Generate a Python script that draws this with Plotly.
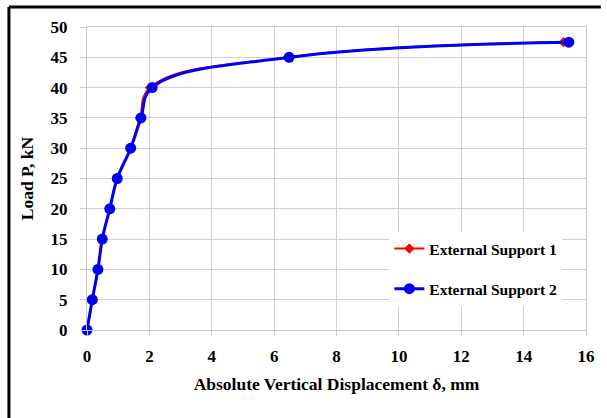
import plotly.graph_objects as go

load = [0, 5, 10, 15, 20, 25, 30, 35, 40, 45, 47.5]
disp_s1 = [0, 0.17, 0.35, 0.49, 0.73, 0.97, 1.40, 1.70, 2.02, 6.45, 15.28]
disp_s2 = [0, 0.17, 0.35, 0.49, 0.73, 0.97, 1.40, 1.73, 2.09, 6.48, 15.45]
names = ["External Support 1", "External Support 2"]

W, H = 607, 418
L, R, T, B = 87, 15, 27, 88

fig = go.Figure()
fig.add_trace(go.Scatter(
    x=disp_s1, y=load, name=names[0], mode="lines+markers",
    line=dict(color="#ff0000", width=2, shape="spline", smoothing=1.2),
    marker=dict(symbol="diamond", size=8, color="#ff0000"),
    legendgroup="a", cliponaxis=False,
))
fig.add_trace(go.Scatter(
    x=disp_s2, y=load, name=names[1], mode="lines+markers",
    line=dict(color="#0000ee", width=3, shape="spline", smoothing=1.15),
    marker=dict(symbol="circle", size=11, color="#0000ee"),
    legendgroup="b", cliponaxis=False,
))

pw = W - L - R
ph = H - T - B
def px(x):
    return (x - L) / pw
def py(y):
    return (H - B - y) / ph

font_family = "Liberation Serif"
fig.update_layout(
    width=W, height=H,
    margin=dict(l=L, r=R, t=T, b=B),
    paper_bgcolor="white", plot_bgcolor="white",
    font=dict(family=font_family, color="black"),
    xaxis=dict(
        range=[0, 16], dtick=2, tick0=0,
        showgrid=True, gridcolor="#d0d0d0", gridwidth=1,
        showline=True, linecolor="#c8c8c8", linewidth=1, mirror=True,
        ticks="outside", ticklen=5, tickcolor="#c8c8c8",
        ticklabelstandoff=6,
        tickfont=dict(size=17, family=font_family, weight="bold"),
        title=dict(text="<b>Absolute Vertical Displacement δ, mm</b>",
                   font=dict(size=17.5, family=font_family), standoff=12),
        zeroline=False,
    ),
    yaxis=dict(
        range=[0, 50], dtick=5, tick0=0,
        showgrid=True, gridcolor="#d0d0d0", gridwidth=1,
        showline=True, linecolor="#c8c8c8", linewidth=1, mirror=True,
        ticks="outside", ticklen=6, tickcolor="#c8c8c8",
        ticklabelstandoff=9,
        tickfont=dict(size=17, family=font_family, weight="bold"),
        title=dict(text="<b>Load P, kN</b>",
                   font=dict(size=17.5, family=font_family), standoff=12),
        zeroline=False,
    ),
    legend=dict(
        x=px(393), y=py(232), xanchor="left", yanchor="top",
        bgcolor="white", borderwidth=0,
        font=dict(size=15.5, family=font_family, weight="bold"),
        tracegroupgap=17, traceorder="grouped", itemwidth=30,
    ),
    showlegend=True,
    shapes=[
        dict(type="line", xref="paper", yref="paper",
             x0=px(8), x1=px(607), y0=py(7), y1=py(7),
             line=dict(color="black", width=3)),
        dict(type="line", xref="paper", yref="paper",
             x0=px(8), x1=px(8), y0=py(7), y1=py(418),
             line=dict(color="black", width=3)),
    ],
)

fig.write_html("out.html")
